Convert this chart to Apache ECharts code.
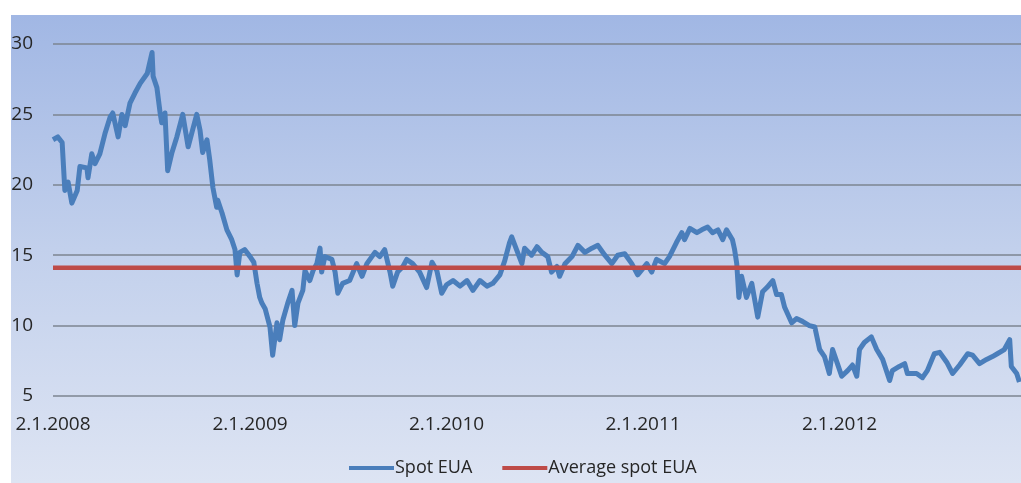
<!DOCTYPE html>
<html>
<head>
<meta charset="utf-8">
<script src="https://cdn.jsdelivr.net/npm/echarts@6/dist/echarts.min.js"></script>
<style>
  html, body { margin: 0; padding: 0; background: #ffffff; }
  #chart { width: 1021px; height: 483px; }
</style>
</head>
<body>
<div id="chart"></div>
<script>
// Daily spot EUA price (EUR/t), sampled at turning points
const spotDates = [
  '2008-01-02','2008-01-11','2008-01-19','2008-01-24','2008-01-30','2008-02-06','2008-02-16','2008-02-21',
  '2008-03-05','2008-03-07','2008-03-14','2008-03-20','2008-03-29','2008-04-08','2008-04-17','2008-04-22',
  '2008-05-02','2008-05-09','2008-05-15','2008-05-24','2008-06-02','2008-06-12','2008-06-25','2008-07-04',
  '2008-07-06','2008-07-13','2008-07-19','2008-07-22','2008-07-28','2008-08-02','2008-08-10','2008-08-19',
  '2008-08-30','2008-09-09','2008-09-16','2008-09-25','2008-10-01','2008-10-06','2008-10-14','2008-10-19',
  '2008-10-25','2008-11-01','2008-11-03','2008-11-11','2008-11-20','2008-11-29','2008-12-05','2008-12-09',
  '2008-12-14','2008-12-23','2009-01-02','2009-01-09','2009-01-15','2009-01-20','2009-01-24','2009-01-30',
  '2009-02-08','2009-02-13','2009-02-21','2009-02-26','2009-03-04','2009-03-13','2009-03-21','2009-03-26',
  '2009-04-01','2009-04-10','2009-04-14','2009-04-23','2009-04-29','2009-05-06','2009-05-12','2009-05-15',
  '2009-05-21','2009-06-03','2009-06-09','2009-06-14','2009-06-23','2009-07-06','2009-07-19','2009-07-29',
  '2009-08-07','2009-08-22','2009-08-31','2009-09-09','2009-09-19','2009-09-24','2009-10-03','2009-10-13',
  '2009-10-20','2009-10-31','2009-11-13','2009-11-26','2009-12-06','2009-12-15','2009-12-24','2010-01-02',
  '2010-01-14','2010-01-27','2010-02-09','2010-02-20','2010-03-05','2010-03-18','2010-03-29','2010-04-11',
  '2010-04-20','2010-04-29','2010-05-03','2010-05-12','2010-05-22','2010-05-27','2010-06-09','2010-06-19',
  '2010-06-28','2010-07-09','2010-07-16','2010-07-26','2010-07-31','2010-08-10','2010-08-23','2010-09-03',
  '2010-09-16','2010-09-29','2010-10-10','2010-10-23','2010-11-05','2010-11-16','2010-11-29','2010-12-12',
  '2010-12-23','2011-01-09','2011-01-18','2011-01-27','2011-02-11','2011-02-20','2011-03-05','2011-03-15',
  '2011-03-20','2011-03-30','2011-04-12','2011-04-21','2011-05-02','2011-05-11','2011-05-21','2011-05-30',
  '2011-06-06','2011-06-17','2011-06-21','2011-06-25','2011-06-29','2011-07-04','2011-07-13','2011-07-23',
  '2011-08-03','2011-08-12','2011-08-20','2011-08-31','2011-09-07','2011-09-16','2011-09-22','2011-10-05',
  '2011-10-14','2011-10-25','2011-11-07','2011-11-17','2011-11-26','2011-12-05','2011-12-14','2011-12-20',
  '2011-12-29','2012-01-06','2012-01-17','2012-01-26','2012-02-03','2012-02-08','2012-02-17','2012-03-01',
  '2012-03-11','2012-03-22','2012-04-04','2012-04-09','2012-04-22','2012-05-02','2012-05-07','2012-05-24',
  '2012-06-04','2012-06-13','2012-06-26','2012-07-06','2012-07-19','2012-07-30','2012-08-12','2012-08-27',
  '2012-09-05','2012-09-18','2012-10-01','2012-10-12','2012-10-21','2012-11-03','2012-11-13','2012-11-16',
  '2012-11-26','2012-12-01'
];
const spotValues = [
  23.2,23.4,23.0,19.6,20.2,18.7,19.6,21.3,
  21.2,20.5,22.2,21.5,22.2,23.7,24.8,25.1,
  23.4,25.0,24.2,25.8,26.5,27.2,27.9,29.4,
  27.7,26.9,25.1,24.4,25.1,21.0,22.3,23.4,
  25.0,22.7,23.7,25.0,23.9,22.3,23.2,21.8,
  19.8,18.4,18.9,18.0,16.8,16.1,15.4,13.6,
  15.2,15.4,14.9,14.5,13.0,12.0,11.6,11.2,
  9.9,7.9,10.2,9.0,10.4,11.6,12.5,10.0,
  11.6,12.5,13.9,13.2,13.9,14.4,15.5,13.8,
  14.9,14.7,13.8,12.3,13.0,13.2,14.4,13.5,
  14.4,15.2,14.9,15.4,13.8,12.8,13.8,14.2,
  14.7,14.4,13.8,12.7,14.5,13.9,12.3,12.9,
  13.2,12.8,13.2,12.5,13.2,12.8,13.0,13.6,
  14.6,15.9,16.3,15.4,14.4,15.5,15.0,15.6,
  15.2,14.9,13.8,14.2,13.5,14.4,14.9,15.7,
  15.2,15.5,15.7,15.0,14.4,15.0,15.1,14.4,
  13.6,14.4,13.8,14.7,14.4,14.9,15.9,16.6,
  16.1,16.9,16.6,16.8,17.0,16.6,16.8,16.1,
  16.8,16.1,15.4,14.4,12.0,13.5,12.0,13.0,
  10.6,12.4,12.7,13.2,12.2,12.2,11.3,10.2,
  10.5,10.3,10.0,9.9,8.3,7.8,6.6,8.3,
  7.3,6.4,6.8,7.2,6.4,8.3,8.8,9.2,
  8.3,7.6,6.1,6.8,7.1,7.3,6.6,6.6,
  6.3,6.8,8.0,8.1,7.4,6.6,7.2,8.0,
  7.9,7.3,7.6,7.8,8.0,8.3,9.0,7.1,
  6.6,6.0
];

// Average spot price over the whole period
const averageSpot = 14.1;

// Axis range and tick labels
const axisStart = '2008-01-02';
const axisEnd = '2012-12-04';
const yearTicks = ['2008-01-02', '2009-01-02', '2010-01-02', '2011-01-02', '2012-01-02'];
const yTicks = { min: 5, max: 30, step: 5 };

const seriesNames = ['Spot EUA', 'Average spot EUA'];

// Dates become UTC timestamps on a plain value axis
const ts = d => Date.parse(d + 'T00:00:00Z');
const spotData = spotDates.map((d, i) => [ts(d), spotValues[i]]);
const averageData = [[ts(axisStart), averageSpot], [ts(axisEnd), averageSpot]];

const chart = echarts.init(document.getElementById('chart'), null, { renderer: 'canvas' });

const fontFamily = '"Open Sans", "DejaVu Sans", sans-serif';

chart.setOption({
  animation: false,
  backgroundColor: '#ffffff',
  graphic: [{
    type: 'rect',
    left: 11,
    top: 15,
    z: -10,
    silent: true,
    shape: { width: 1010, height: 468 },
    style: {
      fill: new echarts.graphic.LinearGradient(0, 0, 0, 1, [
        { offset: 0, color: '#a1b7e4' },
        { offset: 0.5, color: '#c2d0ec' },
        { offset: 1, color: '#dde4f3' }
      ])
    }
  }],
  grid: { left: 53, right: 0, top: 44, bottom: 87, containLabel: false },
  legend: {
    left: 344,
    top: 454,
    itemWidth: 45,
    itemHeight: 14,
    itemGap: 30,
    textStyle: { fontFamily: fontFamily, fontSize: 18, color: '#262626', padding: [0, 0, 0, -4] },
    data: [
      { name: seriesNames[0], icon: 'path://M0,6 L45,6 L45,10 L0,10 Z', itemStyle: { color: '#4a7ebb' } },
      { name: seriesNames[1], icon: 'path://M0,6 L45,6 L45,10 L0,10 Z', itemStyle: { color: '#be4b48' } }
    ]
  },
  xAxis: {
    type: 'value',
    min: ts(axisStart),
    max: ts(axisEnd),
    axisLine: { show: false },
    axisTick: { show: false },
    splitLine: { show: false },
    axisLabel: {
      customValues: yearTicks.map(ts),
      margin: 19,
      fontFamily: fontFamily,
      fontSize: 19,
      color: '#262626',
      formatter: function (v) {
        const d = new Date(v);
        return d.getUTCDate() + '.' + (d.getUTCMonth() + 1) + '.' + d.getUTCFullYear();
      }
    }
  },
  yAxis: {
    type: 'value',
    min: yTicks.min,
    max: yTicks.max,
    interval: yTicks.step,
    axisLine: { show: false },
    axisTick: { show: false },
    axisLabel: { margin: 20, fontFamily: fontFamily, fontSize: 19, color: '#262626' },
    splitLine: { show: true, lineStyle: { color: '#7c8590', width: 1.5 } }
  },
  series: [
    {
      name: seriesNames[0],
      type: 'line',
      data: spotData,
      showSymbol: false,
      symbol: 'none',
      lineStyle: { color: '#4a7ebb', width: 5, join: 'round' },
      itemStyle: { color: '#4a7ebb' },
      z: 2
    },
    {
      name: seriesNames[1],
      type: 'line',
      data: averageData,
      showSymbol: false,
      symbol: 'none',
      lineStyle: { color: '#be4b48', width: 4.5 },
      itemStyle: { color: '#be4b48' },
      z: 3
    }
  ]
});
</script>
</body>
</html>
